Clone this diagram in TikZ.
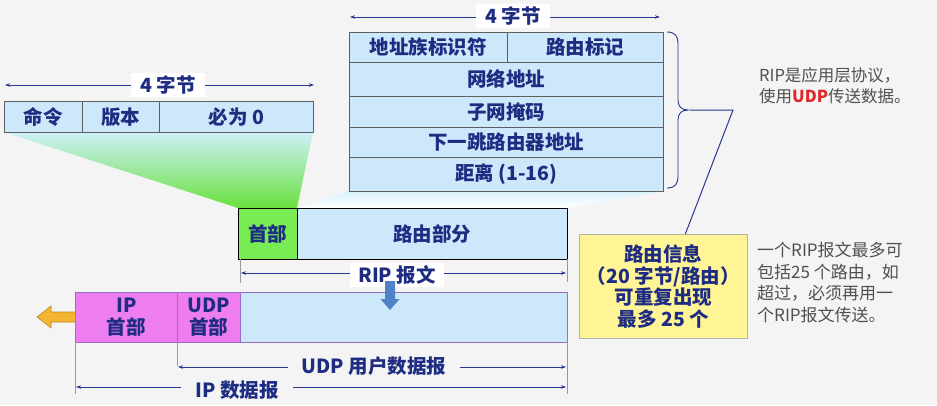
\documentclass[tikz,border=0pt]{standalone}
\usepackage{fontspec}
\setmainfont{Noto Sans CJK SC}
\usetikzlibrary{arrows.meta}
\definecolor{txtblue}{RGB}{30,45,130}
\definecolor{dimblue}{RGB}{40,55,145}
\definecolor{cellfill}{RGB}{204,232,250}
\definecolor{cellborder}{RGB}{95,95,95}
\definecolor{hdrgreen}{RGB}{120,235,85}
\definecolor{hdrmag}{RGB}{238,125,240}
\definecolor{magborder}{RGB}{150,110,200}
\definecolor{infoyellow}{RGB}{255,245,150}
\definecolor{bgcol}{RGB}{244,244,244}
\definecolor{fantop}{RGB}{205,240,250}
\definecolor{fanbot}{RGB}{105,225,60}
\definecolor{fanlight}{RGB}{215,242,252}
\definecolor{notegray}{RGB}{80,80,80}
\definecolor{notered}{RGB}{220,40,40}
\definecolor{downblue}{RGB}{80,130,200}
\definecolor{orangefill}{RGB}{245,180,50}
\definecolor{orangeline}{RGB}{190,135,40}
\begin{document}
\begin{tikzpicture}[x=1pt,y=-1pt,
  cell/.style={draw=cellborder, fill=cellfill, line width=0.7pt, inner sep=0pt, anchor=north west,
    font=\fontsize{19.5}{22}\selectfont\bfseries, text=txtblue, align=center},
  dim/.style={draw=dimblue, line width=0.8pt, {Stealth[length=5pt,width=3.5pt]}-{Stealth[length=5pt,width=3.5pt]}},
  dimlabel/.style={fill=white, inner xsep=9pt, inner ysep=3pt, font=\fontsize{19.5}{22}\selectfont\bfseries, text=txtblue},
  tickline/.style={draw=gray!80, line width=0.6pt}]
\useasboundingbox (0,0) rectangle (937,405);
\fill[bgcol] (0,0) rectangle (937,405);

% fans
\shade[top color=fantop, bottom color=fanbot] (4,132) -- (313,132) -- (297,208) -- (238,208) -- cycle;
\shade[top color=fanlight, bottom color=white] (349,191) -- (663,191) -- (567,208) -- (297,208) -- cycle;

% left table
\coordinate (la) at (5,85);
\coordinate (lb) at (314,85);
\draw[dim] (la) -- (lb);
\node[dimlabel] (lw) at (168,85) {4 字节};
\node[cell, minimum width=78pt, minimum height=31pt] (cmd) at (4,101) {命令};
\node[cell, minimum width=77pt, minimum height=31pt] (ver) at (82,101) {版本};
\node[cell, minimum width=154pt, minimum height=31pt] (zero) at (159,101) {必为 0};

% right table
\coordinate (ra) at (350,17);
\coordinate (rb) at (660,17);
\draw[dim] (ra) -- (rb);
\node[dimlabel] (rw) at (513,16) {4 字节};
\node[cell, minimum width=158pt, minimum height=30pt] (afi) at (349,32) {地址族标识符};
\node[cell, minimum width=156pt, minimum height=30pt] (rtag) at (507,32) {路由标记};
\node[cell, minimum width=314pt, minimum height=34pt] (net) at (349,62) {网络地址};
\node[cell, minimum width=314pt, minimum height=31pt] (mask) at (349,96) {子网掩码};
\node[cell, minimum width=314pt, minimum height=30pt] (nhop) at (349,127) {下一跳路由器地址};
\node[cell, minimum width=314pt, minimum height=34pt] (dist) at (349,157) {距离 (1-16)};

% brace
\draw[dimblue, line width=0.9pt] (667,32) .. controls (675,32) and (678,36) .. (678,44) -- (678,100)
  .. controls (678,106) and (681,110) .. (688,110) .. controls (681,110) and (678,114) .. (678,120)
  -- (678,176) .. controls (678,184) and (675,188) .. (667,188);
\coordinate (btip) at (690,110);
\coordinate (bend) at (733,110);

% info box
\node[cell, fill=infoyellow, draw=gray!60, minimum width=168pt, minimum height=104pt,
  font=\fontsize{19.5}{21.5}\selectfont\bfseries] (info) at (579,234)
  {路由信息\\（20 字节/路由）\\可重复出现\\最多 25 个};
\draw[dimblue, line width=1pt] (btip) -- (bend) -- ([xshift=22pt]info.north);

% notes
\node[anchor=north west, inner sep=0pt, align=left, text=notegray,
  font=\fontsize{16.5}{21}\selectfont] (note1) at (759,67)
  {RIP是应用层协议，\\使用{\bfseries\color{notered}UDP}传送数据。};
\node[anchor=north west, inner sep=0pt, align=left, text=notegray,
  font=\fontsize{17}{21.5}\selectfont] (note2) at (757,242)
  {一个RIP报文最多可\\包括25 个路由，如\\超过，必须再用一\\个RIP报文传送。};

% RIP message
\node[cell, fill=hdrgreen, draw=black, line width=0.9pt, minimum width=59pt, minimum height=51pt] (rhdr) at (238,208) {首部};
\node[cell, draw=black, line width=0.9pt, minimum width=270pt, minimum height=51pt] (rbody) at (297,208) {路由部分};
\coordinate (t1a) at (240,259); \coordinate (t1b) at (240,283);
\coordinate (t2a) at (567,259); \coordinate (t2b) at (567,282);
\draw[tickline] (t1a) -- (t1b);
\draw[tickline] (t2a) -- (t2b);
\coordinate (ripa) at (241,273);
\coordinate (ripb) at (566,273);
\draw[dim] (ripa) -- (ripb);
\node[dimlabel, inner xsep=8pt] (riplabel) at (397,275) {RIP 报文};

% bottom datagram
\node[cell, fill=hdrmag, draw=magborder, minimum width=102pt, minimum height=50pt] (iphdr) at (75,292) {IP\\首部};
\node[cell, fill=hdrmag, draw=magborder, minimum width=63pt, minimum height=50pt] (udphdr) at (177,292) {UDP\\首部};
\node[cell, draw=magborder, minimum width=327pt, minimum height=50pt] (udpdata) at (240,292) {};

% down arrow
\fill[downblue] (385,281) -- (395,281) -- (395,299) -- (399.5,299) -- (390,310) -- (380.5,299) -- (385,299) -- cycle;

% orange arrow
\filldraw[fill=orangefill, draw=orangeline, line width=0.6pt] (75,312) -- (51,312) -- (51,306) -- (37,317) -- (51,328) -- (51,322) -- (75,322);

% bottom dims
\coordinate (t3a) at (177,342); \coordinate (t3b) at (177,366);
\coordinate (t4a) at (75,342); \coordinate (t4b) at (75,394);
\coordinate (t5a) at (567,342); \coordinate (t5b) at (567,394);
\draw[tickline] (t3a) -- (t3b);
\draw[tickline] (t4a) -- (t4b);
\draw[tickline] (t5a) -- (t5b);
\coordinate (udpa) at (178,367);
\coordinate (udpb) at (566,367);
\draw[dim] (udpa) -- (udpb);
\node[dimlabel, fill=bgcol, inner xsep=14pt] (udplabel) at (374,366) {UDP 用户数据报};
\coordinate (ipa) at (76,387);
\coordinate (ipb) at (566,387);
\draw[dim] (ipa) -- (ipb);
\node[dimlabel, fill=bgcol, inner xsep=14pt] (iplabel) at (237,390) {IP 数据报};
\end{tikzpicture}
\end{document}
